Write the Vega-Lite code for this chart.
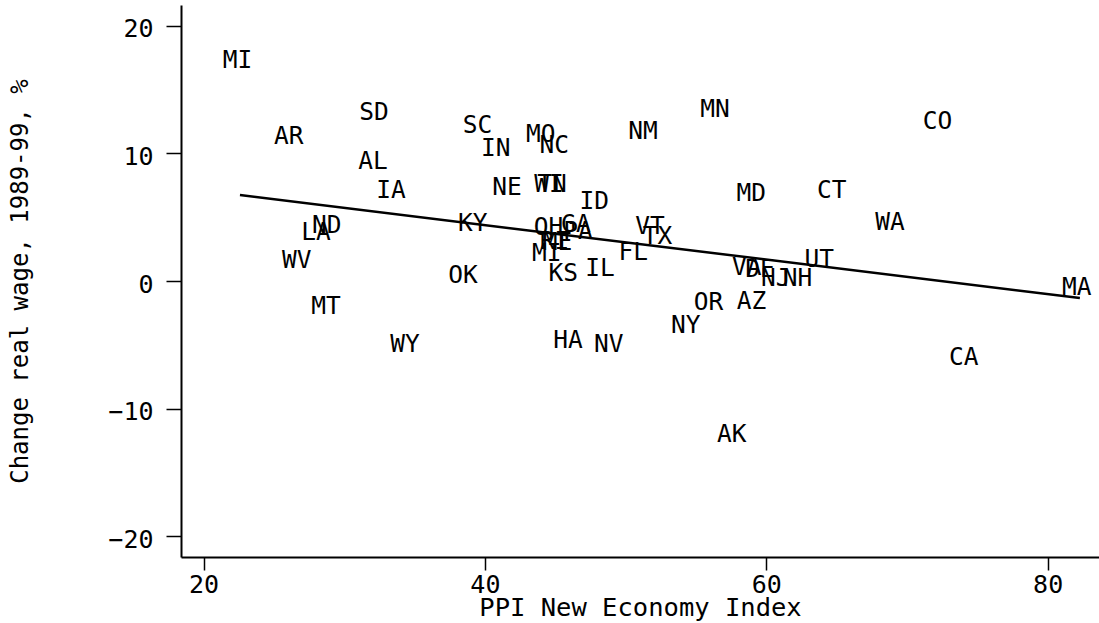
{
  "$schema": "https://vega.github.io/schema/vega-lite/v6.json",
  "width": 918,
  "height": 552,
  "autosize": {"type": "none"},
  "padding": {"left": 181, "top": 5, "right": 0, "bottom": 66},
  "background": "white",
  "config": {
    "view": {"stroke": null},
    "font": "DejaVu Sans Mono",
    "axis": {
      "grid": false,
      "domainColor": "black",
      "domainWidth": 2,
      "tickColor": "black",
      "tickWidth": 1.5,
      "labelFont": "DejaVu Sans Mono",
      "labelFontSize": 25,
      "labelColor": "black",
      "labelOverlap": false,
      "labelFlush": false,
      "titleFont": "DejaVu Sans Mono",
      "titleFontWeight": "normal",
      "titleColor": "black"
    }
  },
  "datasets": {
    "states": [
      {"s": "MI", "x": 22.42, "y": 17.23},
      {"s": "SD", "x": 32.12, "y": 13.16},
      {"s": "AR", "x": 26.05, "y": 11.30},
      {"s": "AL", "x": 32.05, "y": 9.28},
      {"s": "IA", "x": 33.33, "y": 7.05},
      {"s": "ND", "x": 28.76, "y": 4.31},
      {"s": "LA", "x": 28.0, "y": 3.72},
      {"s": "WV", "x": 26.62, "y": 1.57},
      {"s": "MT", "x": 28.71, "y": -2.04},
      {"s": "WY", "x": 34.32, "y": -5.01},
      {"s": "SC", "x": 39.47, "y": 12.11},
      {"s": "IN", "x": 40.78, "y": 10.32},
      {"s": "MO", "x": 43.97, "y": 11.43},
      {"s": "NC", "x": 44.93, "y": 10.59},
      {"s": "NM", "x": 51.24, "y": 11.63},
      {"s": "MN", "x": 56.35, "y": 13.39},
      {"s": "NE", "x": 41.58, "y": 7.32},
      {"s": "WI", "x": 44.56, "y": 7.48},
      {"s": "TN", "x": 44.77, "y": 7.48},
      {"s": "ID", "x": 47.77, "y": 6.15},
      {"s": "MD", "x": 58.93, "y": 6.80},
      {"s": "KY", "x": 39.14, "y": 4.45},
      {"s": "OH", "x": 44.52, "y": 4.15},
      {"s": "GA", "x": 46.47, "y": 4.39},
      {"s": "PA", "x": 46.61, "y": 3.84},
      {"s": "ME", "x": 45.16, "y": 3.01},
      {"s": "RI", "x": 44.95, "y": 3.05},
      {"s": "MI", "x": 44.39, "y": 2.10},
      {"s": "KS", "x": 45.57, "y": 0.53},
      {"s": "IL", "x": 48.18, "y": 0.92},
      {"s": "VT", "x": 51.73, "y": 4.25},
      {"s": "TX", "x": 52.27, "y": 3.41},
      {"s": "FL", "x": 50.55, "y": 2.23},
      {"s": "OK", "x": 38.44, "y": 0.37},
      {"s": "HA", "x": 45.91, "y": -4.72},
      {"s": "NV", "x": 48.80, "y": -4.99},
      {"s": "NY", "x": 54.28, "y": -3.56},
      {"s": "AK", "x": 57.54, "y": -12.03},
      {"s": "OR", "x": 55.89, "y": -1.75},
      {"s": "AZ", "x": 58.95, "y": -1.64},
      {"s": "VA", "x": 58.61, "y": 0.99},
      {"s": "DE", "x": 59.55, "y": 0.86},
      {"s": "NJ", "x": 60.68, "y": 0.14},
      {"s": "NH", "x": 62.22, "y": 0.14},
      {"s": "UT", "x": 63.76, "y": 1.64},
      {"s": "CT", "x": 64.65, "y": 7.06},
      {"s": "CO", "x": 72.17, "y": 12.45},
      {"s": "WA", "x": 68.79, "y": 4.58},
      {"s": "MA", "x": 82.06, "y": -0.57},
      {"s": "CA", "x": 74.04, "y": -5.99}
    ],
    "fit": [
      {"x": 22.59, "y": 6.73},
      {"x": 82.29, "y": -1.33}
    ]
  },
  "layer": [
    {
      "data": {"name": "states"},
      "mark": {"type": "text", "font": "DejaVu Sans Mono", "fontSize": 24.5, "color": "black", "align": "center", "baseline": "middle"},
      "encoding": {
        "x": {
          "field": "x", "type": "quantitative",
          "scale": {"domain": [18.4, 83.65], "nice": false, "zero": false},
          "axis": {
            "values": [20, 40, 60, 80],
            "title": "PPI New Economy Index",
            "titleFontSize": 25.5,
            "tickSize": 13,
            "labelPadding": 2,
            "titleBaseline": "alphabetic",
            "titleY": 58
          }
        },
        "y": {
          "field": "y", "type": "quantitative",
          "scale": {"domain": [-21.61, 21.61], "nice": false, "zero": false},
          "axis": {
            "values": [-20, -10, 0, 10, 20],
            "title": "Change real wage, 1989-99, %",
            "titleFontSize": 24,
            "tickSize": 15,
            "labelPadding": 13,
            "labelOffset": 3,
            "titleX": -149,
            "titleBaseline": "bottom"
          }
        },
        "text": {"field": "s"}
      }
    },
    {
      "data": {"name": "fit"},
      "mark": {"type": "line", "color": "black", "strokeWidth": 2.5},
      "encoding": {
        "x": {"field": "x", "type": "quantitative"},
        "y": {"field": "y", "type": "quantitative"}
      }
    }
  ]
}
